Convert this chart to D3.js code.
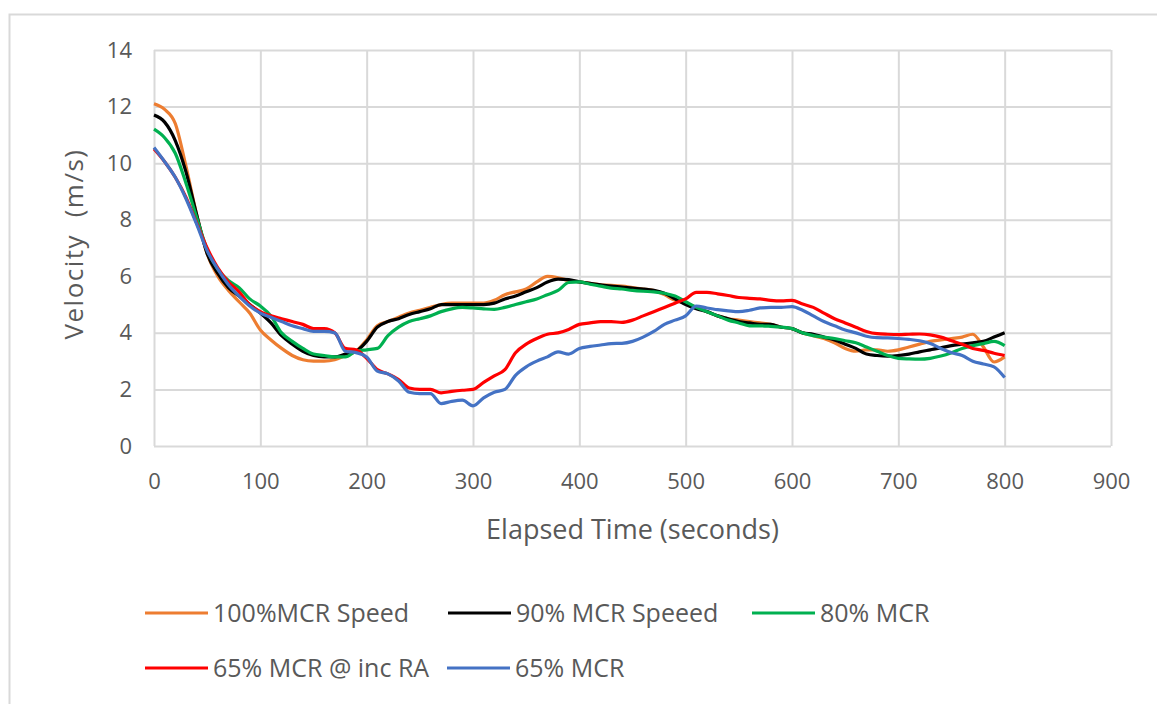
<!DOCTYPE html>
<html>
<head>
<meta charset="utf-8">
<title>Velocity vs elapsed time</title>
<script src="https://d3js.org/d3.v7.min.js"></script>
<style>
  body { margin: 0; background: #fff; }
  svg { display: block; }
  .tick text { fill: #595959; font-family: "Open Sans", sans-serif; font-size: 22px; }
  .grid line { stroke: #d9d9d9; stroke-width: 2; }
  .grid path { display: none; }
</style>
</head>
<body>
<script>
// elapsed time (s), shared by all series
var times = d3.range(0, 801, 10);

var mcr100 = [12.1,11.9,11.4,9.9,8.2,6.8,6.0,5.5,5.1,4.7,4.1,3.75,3.45,3.2,3.05,3.0,3.0,3.05,3.2,3.35,
  3.75,4.25,4.4,4.55,4.7,4.8,4.9,5.0,5.05,5.05,5.05,5.05,5.15,5.35,5.45,5.55,5.8,6.0,5.95,5.85,
  5.8,5.75,5.7,5.68,5.65,5.6,5.55,5.5,5.35,5.15,5.05,4.9,4.75,4.6,4.5,4.45,4.4,4.35,4.3,4.2,
  4.15,4.0,3.9,3.8,3.65,3.45,3.35,3.4,3.4,3.35,3.4,3.5,3.6,3.7,3.75,3.8,3.85,3.95,3.5,2.97,3.15];

var mcr90 = [11.7,11.45,10.8,9.7,8.2,6.8,6.1,5.6,5.3,5.0,4.7,4.35,3.9,3.6,3.35,3.2,3.15,3.15,3.25,3.35,
  3.7,4.2,4.4,4.5,4.65,4.75,4.85,5.0,5.0,5.0,5.0,5.0,5.05,5.2,5.3,5.45,5.6,5.8,5.9,5.88,
  5.8,5.75,5.7,5.65,5.62,5.58,5.55,5.5,5.4,5.2,5.0,4.85,4.75,4.6,4.5,4.4,4.35,4.3,4.3,4.2,
  4.15,4.0,3.95,3.85,3.75,3.6,3.45,3.25,3.2,3.18,3.2,3.25,3.33,3.4,3.47,3.55,3.6,3.65,3.7,3.85,4.0];

var mcr80 = [11.2,10.9,10.35,9.3,8.1,6.95,6.25,5.85,5.6,5.2,4.95,4.6,4.0,3.7,3.45,3.25,3.2,3.15,3.15,3.35,
  3.4,3.45,3.9,4.2,4.4,4.5,4.6,4.75,4.85,4.9,4.88,4.85,4.83,4.9,5.0,5.1,5.2,5.35,5.5,5.78,
  5.8,5.72,5.65,5.58,5.55,5.5,5.47,5.45,5.4,5.3,5.1,4.9,4.75,4.6,4.45,4.35,4.25,4.25,4.23,4.2,
  4.15,4.0,3.9,3.85,3.8,3.72,3.65,3.5,3.35,3.2,3.1,3.08,3.07,3.1,3.18,3.3,3.45,3.55,3.62,3.7,3.55];

var mcr65ra = [10.5,10.05,9.5,8.8,7.9,7.0,6.3,5.8,5.45,5.0,4.75,4.6,4.5,4.4,4.3,4.15,4.15,4.0,3.45,3.4,
  3.1,2.7,2.55,2.35,2.05,2.0,2.0,1.88,1.93,1.97,2.0,2.25,2.48,2.7,3.3,3.6,3.8,3.95,4.0,4.12,
  4.3,4.35,4.4,4.4,4.37,4.45,4.6,4.75,4.9,5.05,5.2,5.43,5.43,5.38,5.32,5.25,5.22,5.2,5.15,5.13,
  5.15,5.02,4.9,4.7,4.5,4.35,4.2,4.05,3.97,3.95,3.94,3.95,3.96,3.93,3.85,3.72,3.6,3.45,3.38,3.28,3.2];

var mcr65 = [10.55,10.05,9.5,8.75,7.85,6.9,6.25,5.7,5.3,4.95,4.7,4.55,4.4,4.25,4.15,4.05,4.05,4.0,3.35,3.3,
  3.15,2.65,2.55,2.3,1.9,1.85,1.85,1.5,1.58,1.62,1.42,1.7,1.9,2.0,2.5,2.8,3.0,3.15,3.33,3.25,
  3.45,3.52,3.57,3.62,3.63,3.7,3.85,4.05,4.3,4.45,4.6,4.95,4.88,4.82,4.78,4.75,4.8,4.88,4.9,4.9,
  4.93,4.8,4.6,4.4,4.25,4.1,4.0,3.88,3.83,3.82,3.8,3.77,3.72,3.62,3.45,3.3,3.2,3.0,2.9,2.8,2.42];

var seriesNames = ["100%MCR Speed", "90% MCR Speeed", "80% MCR", "65% MCR @ inc RA", "65% MCR"];
var seriesValues = [mcr100, mcr90, mcr80, mcr65ra, mcr65];
var seriesColors = ["#ED7D31", "#000000", "#00B050", "#FF0000", "#4472C4"];

var xTicks = d3.range(0, 901, 100);
var yTicks = d3.range(0, 15, 2);

var width = 1157, height = 704;
var svg = d3.select("body").append("svg")
    .attr("width", width)
    .attr("height", height);

// outer frame (only top and left edges show)
svg.append("path")
    .attr("d", "M9.5,704V14.5H1157")
    .attr("fill", "none")
    .attr("stroke", "#d9d9d9")
    .attr("stroke-width", 2);

var x = d3.scaleLinear().domain([0, 900]).range([154, 1111]);
var y = d3.scaleLinear().domain([0, 14]).range([446, 50]);

// grid + tick labels
svg.append("g")
    .attr("class", "grid")
    .attr("transform", "translate(0," + y(0) + ")")
    .call(d3.axisBottom(x).tickValues(xTicks).tickSize(-(y(0) - y(14))).tickPadding(27));

svg.append("g")
    .attr("class", "grid")
    .attr("transform", "translate(" + x(0) + ",0)")
    .call(d3.axisLeft(y).tickValues(yTicks).tickSize(-(x(900) - x(0))).tickPadding(22));

// axis titles
svg.append("text")
    .attr("x", (x(0) + x(900)) / 2)
    .attr("y", 539)
    .attr("text-anchor", "middle")
    .attr("fill", "#595959")
    .style("font-family", "Open Sans, sans-serif")
    .style("font-size", "27px")
    .text("Elapsed Time (seconds)");

svg.append("text")
    .attr("transform", "translate(83," + (y(7) - 4) + ") rotate(-90)")
    .attr("text-anchor", "middle")
    .attr("fill", "#595959")
    .style("font-family", "Open Sans, sans-serif")
    .style("font-size", "26px")
    .style("letter-spacing", "1.5px")
    .style("white-space", "pre")
    .text("Velocity  (m/s)");

// lines
var line = d3.line()
    .x(function(d, i) { return x(times[i]); })
    .y(function(d) { return y(d); })
    .curve(d3.curveMonotoneX);

svg.selectAll(".series")
    .data(seriesValues)
    .enter()
    .append("path")
    .attr("class", "series")
    .attr("fill", "none")
    .attr("stroke", function(d, i) { return seriesColors[i]; })
    .attr("stroke-width", 3.2)
    .attr("stroke-linejoin", "round")
    .attr("d", line);

// legend
var legendPos = [[145, 613], [448, 613], [752, 613], [145, 668], [447, 668]];
var legend = svg.selectAll(".legend")
    .data(seriesNames)
    .enter()
    .append("g")
    .attr("class", "legend")
    .attr("transform", function(d, i) { return "translate(" + legendPos[i] + ")"; });

legend.append("line")
    .attr("x1", 0).attr("x2", 63)
    .attr("stroke", function(d, i) { return seriesColors[i]; })
    .attr("stroke-width", 3.2);

legend.append("text")
    .attr("x", 68)
    .attr("dy", "0.35em")
    .attr("fill", "#595959")
    .style("font-family", "Open Sans, sans-serif")
    .style("font-size", "25px")
    .text(function(d) { return d; });
</script>
</body>
</html>
